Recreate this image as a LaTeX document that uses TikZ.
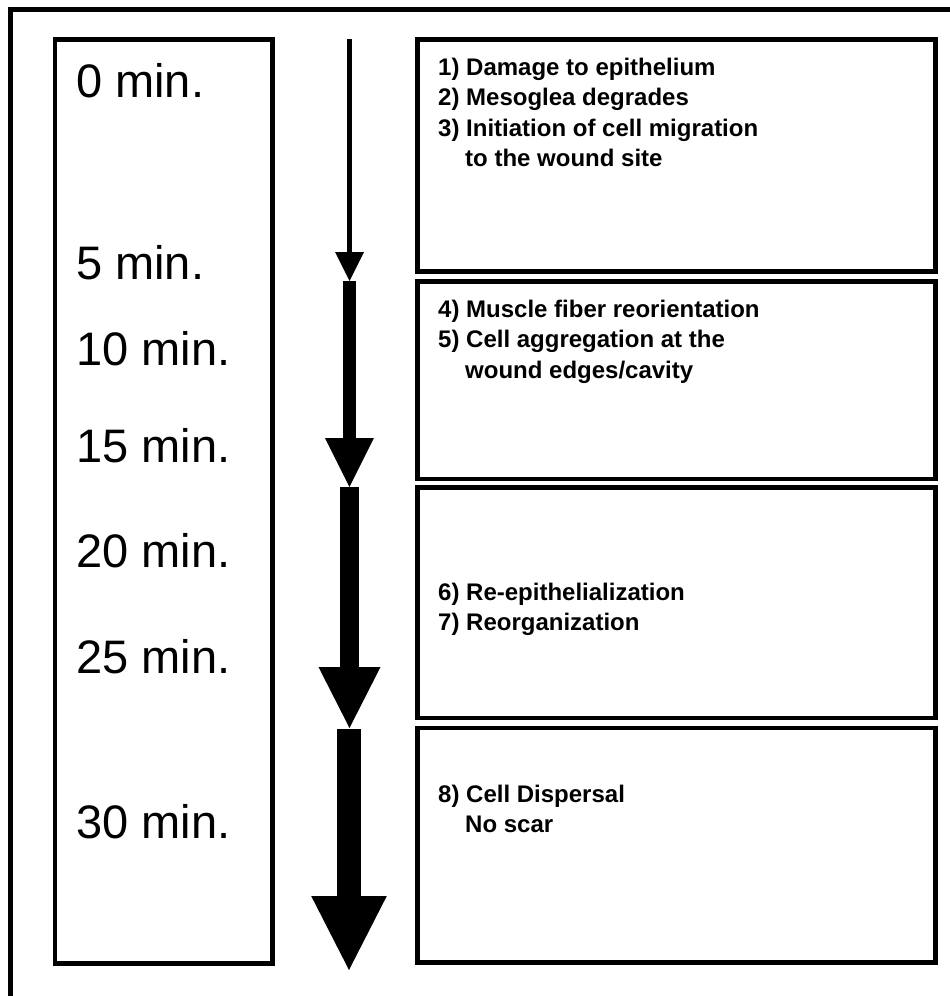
\documentclass[tikz,border=0pt]{standalone}
\usepackage{fontspec}
\setmainfont{Liberation Sans}
\usetikzlibrary{arrows.meta}
\tikzset{
  frame/.style={line width=4.5pt},
  panel/.style={draw, line width=4.5pt, inner sep=0pt, outer sep=0pt, anchor=north west},
  timelbl/.style={anchor=base west, inner sep=0pt, font=\fontsize{47}{56}\selectfont},
  steplbl/.style={anchor=base west, inner sep=0pt, font=\bfseries\fontsize{24}{30.5}\selectfont},
}
\newcommand{\stepind}{\hspace*{27pt}}
\begin{document}
\begin{tikzpicture}[x=1pt,y=-1pt]
\useasboundingbox (0,0) rectangle (950,996);
% outer frame (clipped at right and bottom)
\draw[frame] (10.7,996) -- (10.7,9.5) -- (950,9.5);
% left column
\node[panel, minimum width=217.5pt, minimum height=924pt] (lbox) at (55,39.5) {};
% right panels
\node[panel, minimum width=518pt, minimum height=232pt] (p1) at (417.5,39.5) {};
\node[panel, minimum width=518pt, minimum height=197.5pt] (p2) at (417.5,281.5) {};
\node[panel, minimum width=518pt, minimum height=230.5pt] (p3) at (417.5,487.5) {};
\node[panel, minimum width=518pt, minimum height=234.5pt] (p4) at (417.5,728) {};
% time labels
\node[timelbl] (t0) at (76,97) {0 min.};
\node[timelbl] (t5) at (76,279) {5 min.};
\node[timelbl] (t10) at (76,365) {10 min.};
\node[timelbl] (t15) at (76,462) {15 min.};
\node[timelbl] (t20) at (76,567) {20 min.};
\node[timelbl] (t25) at (76,673) {25 min.};
\node[timelbl] (t30) at (76,838) {30 min.};
% step texts
\node[steplbl] (s1) at (438,75) {\begin{tabular}[t]{@{}l@{}}1) Damage to epithelium\\2) Mesoglea degrades\\3) Initiation of cell migration\\\stepind to the wound site\end{tabular}};
\node[steplbl] (s2) at (438,317) {\begin{tabular}[t]{@{}l@{}}4) Muscle fiber reorientation\\5) Cell aggregation at the\\\stepind wound edges/cavity\end{tabular}};
\node[steplbl] (s3) at (438,600) {\begin{tabular}[t]{@{}l@{}}6) Re-epithelialization\\7) Reorganization\end{tabular}};
\node[steplbl] (s4) at (438,802) {\begin{tabular}[t]{@{}l@{}}8) Cell Dispersal\\\stepind No scar\end{tabular}};
% arrow coordinates
\coordinate (a1s) at (349.5,39);
\coordinate (a1e) at (349.5,281);
\coordinate (a2s) at (349.4,280.7);
\coordinate (a2e) at (349.4,487);
\coordinate (a3s) at (349.5,487);
\coordinate (a3e) at (349.5,728);
\coordinate (a4s) at (349,729);
\coordinate (a4e) at (349,970);
\draw[line width=5pt, -{Triangle[width=29pt,length=29pt,line width=0pt]}] (a1s) -- (a1e);
\draw[line width=13.3pt, -{Triangle[width=49pt,length=49pt,line width=0pt]}] (a2s) -- (a2e);
\draw[line width=19pt, -{Triangle[width=62pt,length=61pt,line width=0pt]}] (a3s) -- (a3e);
\draw[line width=24.3pt, -{Triangle[width=75.6pt,length=74pt,line width=0pt]}] (a4s) -- (a4e);
\end{tikzpicture}
\end{document}
